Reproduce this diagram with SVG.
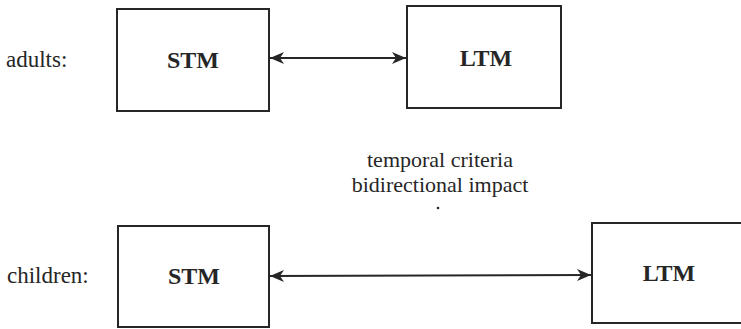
<svg xmlns="http://www.w3.org/2000/svg" width="741" height="329" viewBox="0 0 741 329">
  <style>
    .box { fill: none; stroke: #262626; stroke-width: 2; }
    .lbl { font-family: "Liberation Serif", "Times New Roman", serif; font-size: 23px; fill: #262626; }
    .mem { font-family: "Liberation Serif", "Times New Roman", serif; font-size: 24px; font-weight: bold; fill: #262626; text-anchor: middle; }
    .note { font-family: "Liberation Serif", "Times New Roman", serif; font-size: 22px; fill: #262626; text-anchor: middle; }
    .conn { stroke: #262626; stroke-width: 2; fill: none; }
  </style>
  <defs>
    <marker id="ah" viewBox="0 0 14 12" refX="14" refY="6" markerWidth="14" markerHeight="12" markerUnits="userSpaceOnUse" orient="auto-start-reverse">
      <path d="M0,0 L14,6 L0,12 L4,6 Z" fill="#262626"/>
    </marker>
  </defs>
  <rect x="0" y="0" width="741" height="329" fill="#ffffff"/>

  <text class="lbl" x="6" y="67">adults:</text>
  <text class="lbl" x="7" y="283">children:</text>

  <g id="adult-stm">
    <rect class="box" x="117" y="9" width="152" height="102"/>
    <text class="mem" x="193" y="68">STM</text>
  </g>
  <g id="adult-ltm">
    <rect class="box" x="407" y="6" width="154" height="102"/>
    <text class="mem" x="486" y="66">LTM</text>
  </g>
  <g id="child-stm">
    <rect class="box" x="118" y="226" width="151" height="101"/>
    <text class="mem" x="194" y="284">STM</text>
  </g>
  <g id="child-ltm">
    <rect class="box" x="592" y="223" width="160" height="100"/>
    <text class="mem" x="669" y="281">LTM</text>
  </g>

  <g id="notes">
    <text class="note" x="440" y="167">temporal criteria</text>
    <text class="note" x="440" y="192">bidirectional impact</text>
    <circle cx="438" cy="208" r="1.3" fill="#262626"/>
  </g>

  <g id="connectors">
    <line class="conn" x1="270" y1="58" x2="406" y2="58" marker-start="url(#ah)" marker-end="url(#ah)"/>
    <line class="conn" x1="270" y1="276" x2="591" y2="275" marker-start="url(#ah)" marker-end="url(#ah)"/>
  </g>
</svg>
